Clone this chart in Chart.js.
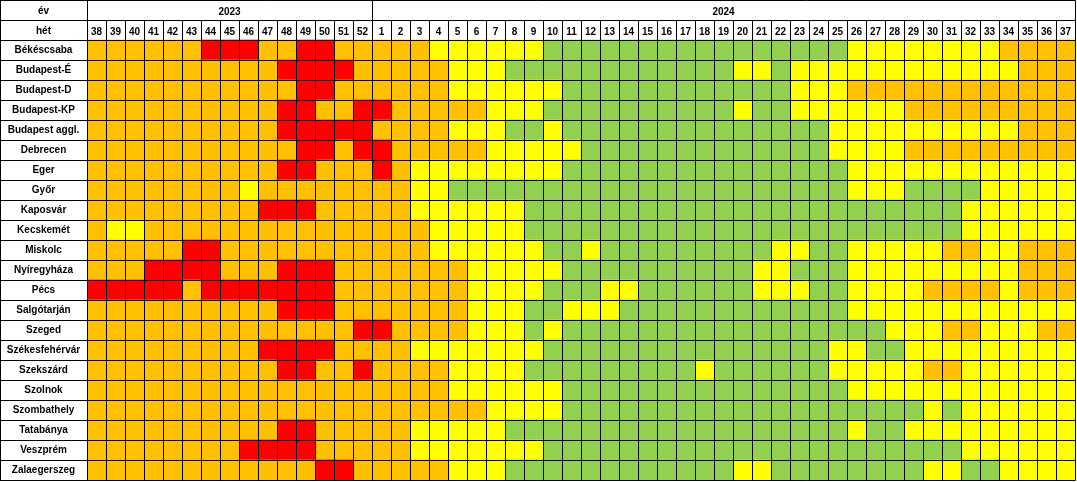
<!DOCTYPE html>
<html>
<head>
<meta charset="utf-8">
<script src="https://cdn.jsdelivr.net/npm/chart.js@4/dist/chart.umd.min.js"></script>
<style>
html,body{margin:0;padding:0;background:#fff;overflow:hidden}
canvas{display:block}
</style>
</head>
<body>
<canvas id="c" width="1077" height="482"></canvas>
<script>
// ---- data ----
const headerRows = ['év', 'hét'];
const cities = ['Békéscsaba','Budapest-É','Budapest-D','Budapest-KP','Budapest aggl.','Debrecen','Eger','Győr','Kaposvár','Kecskemét','Miskolc','Nyíregyháza','Pécs','Salgótarján','Szeged','Székesfehérvár','Szekszárd','Szolnok','Szombathely','Tatabánya','Veszprém','Zalaegerszeg'];
const years = ['2023', '2024'];
const yearWeekCounts = [15, 37];
const weeks = ['38','39','40','41','42','43','44','45','46','47','48','49','50','51','52',
  '1','2','3','4','5','6','7','8','9','10','11','12','13','14','15','16','17','18','19','20',
  '21','22','23','24','25','26','27','28','29','30','31','32','33','34','35','36','37'];
// status codes per city: R = red, O = orange, Y = yellow, G = green
// 2023 weeks 38..52
const status2023 = [
  'OOOOOORRROORROO', // Békéscsaba
  'OOOOOOOOOORRRRO', // Budapest-É
  'OOOOOOOOOOORROO', // Budapest-D
  'OOOOOOOOOORROOR', // Budapest-KP
  'OOOOOOOOOORRRRR', // Budapest aggl.
  'OOOOOOOOOOORROR', // Debrecen
  'OOOOOOOOOORROOO', // Eger
  'OOOOOOOOYOOOOOO', // Győr
  'OOOOOOOOORRROOO', // Kaposvár
  'OYYOOOOOOOOOOOO', // Kecskemét
  'OOOOORROOOOOOOO', // Miskolc
  'OOORRRROOORRROO', // Nyíregyháza
  'RRRRRORRRRRRROO', // Pécs
  'OOOOOOOOOORRROO', // Salgótarján
  'OOOOOOOOOOOOOOR', // Szeged
  'OOOOOOOOORRRROO', // Székesfehérvár
  'OOOOOOOOOORROOR', // Szekszárd
  'OOOOOOOOOOOOOOO', // Szolnok
  'OOOOOOOOOOOOOOO', // Szombathely
  'OOOOOOOOOORROOO', // Tatabánya
  'OOOOOOOORRRROOO', // Veszprém
  'OOOOOOOOOOOORRO'  // Zalaegerszeg
];
// 2024 weeks 1..37 (groups of five weeks)
const status2024 = [
  'OOOYY YYYYG GGGGG GGGGG GGGGG YYYYY YYYOO OO', // Békéscsaba
  'OOOOY YYGGG GGGGG GGGGY YGYYY YYYYY YYYYO OO', // Budapest-É
  'OOOOY YYYYY GGGGG GGGGG GGYYY OOOOO OOOOO OO', // Budapest-D
  'ROOOO OYYYG GGGGG GGGGY GGYYY YYYOO OOOOO OO', // Budapest-KP
  'OOOOY YYGGY GGGGG GGGGG GGGGY YYYYY YYYYO OO', // Budapest aggl.
  'ROOOO OYYYY YGGGG GGGGG GGGGY YYYOO OOOOO OO', // Debrecen
  'ROYYY YYYYY GGGGG GGGGG GGGGG YYYYY YYYYY YY', // Eger
  'OOYYG GGGGG GGGGG GGGGG GGGGG YYYGG GGYYY YY', // Győr
  'OOYYY YYYGG GGGGG GGGGG GGGGG GGGGG GYYYY YY', // Kaposvár
  'OOOYY YYYGG GGGGG GGGGG GGGGG GGGGG GYYYY YY', // Kecskemét
  'OOOYY YYYYG GYGGG GGGGG GYYGG YYYYY OOYYO OO', // Miskolc
  'OOOOO YYYYY GGGGG GGGGG YYGGG YYYYY YYYYO OO', // Nyíregyháza
  'OOOOO YYYYG GGYYG GGGGG YYYGG YYYYO OOOYO OO', // Pécs
  'OOOOO YYYGG YYYGG GGGGG GGGGG YYYYY YYYYY YY', // Salgótarján
  'ROOOO YYYGY GGGGG GGGGG GGGGG GGYYY OOYYY OO', // Szeged
  'OOYYY YYYYG GGGGG GGGGG GGGGY YGGYY YYYYY YY', // Székesfehérvár
  'OOOOY YYYGG GGGGG GGYGG GGGGY YYYYO OYYYY YY', // Szekszárd
  'OOOOY YYYYY GGGGG GGGGG GGGGG YYYYY YYYYY YY', // Szolnok
  'OOOOO OYYYY GGGGG GGGGG GGGGG GGGGY GYYYY YY', // Szombathely
  'OOYYY YYGGG GGGGG GGGGG GGGGG YGGYY YYYYY YY', // Tatabánya
  'OOYYY YYYYG GGGGG GGGGG GGGGG GGGGG GYYYY YY', // Veszprém
  'OOOOY YYGGG GGGGG GGGGY YGGGG GGGGY YGGYY YY'  // Zalaegerszeg
];
const statusColors = { R: '#FF0000', O: '#FFC000', Y: '#FFFF00', G: '#92D050' };

// ---- build chart structures ----
const rowLabels = headerRows.concat(cities);
const cityCodes = cities.map((c, i) => (status2023[i] + status2024[i]).replace(/\s+/g, ''));
const FONT_FAMILY = '"Liberation Sans", Arial, sans-serif';
const FONT_SIZE = 10;
const LABEL_COL_W = 87;

const datasets = weeks.map((w, j) => ({
  label: w,
  data: rowLabels.map((_, r) => r < headerRows.length ? null : 1),
  backgroundColor: rowLabels.map((_, r) => r < headerRows.length ? 'rgba(0,0,0,0)' : statusColors[cityCodes[r - headerRows.length][j]]),
  borderWidth: 0,
  barPercentage: 1,
  categoryPercentage: 1
}));

// measure widest row label to center labels in the left column
const mctx = document.createElement('canvas').getContext('2d');
mctx.font = 'bold ' + FONT_SIZE + 'px ' + FONT_FAMILY;
const widest = Math.max(...cities.map(l => mctx.measureText(l).width));
const labelPad = LABEL_COL_W - LABEL_COL_W / 2 - widest / 2;

const gridPlugin = {
  id: 'tableGrid',
  afterDraw(chart) {
    const ctx = chart.ctx;
    const xs = chart.scales.x;
    const area = chart.chartArea;
    const nRows = rowLabels.length;
    const rowH = (area.bottom - area.top) / nRows;
    const rowY = r => area.top + r * rowH;
    const colX = j => xs.getPixelForValue(j);
    const crisp = v => Math.round(v) + 0.5;
    const right = colX(weeks.length);
    ctx.save();
    // header texts
    ctx.fillStyle = '#000';
    ctx.font = 'bold ' + FONT_SIZE + 'px ' + FONT_FAMILY;
    ctx.textAlign = 'center';
    ctx.textBaseline = 'middle';
    headerRows.forEach((h, r) => {
      ctx.fillText(h, area.left / 2, rowY(r) + rowH / 2 + 1);
    });
    weeks.forEach((w, j) => {
      ctx.fillText(w, colX(j + 0.5), rowY(1) + rowH / 2 + 2);
    });
    let start = 0;
    years.forEach((y, k) => {
      const end = start + yearWeekCounts[k];
      ctx.fillText(y, (colX(start) + colX(end)) / 2, rowY(0) + rowH / 2 + 2);
      start = end;
    });
    // lines
    ctx.strokeStyle = '#000';
    ctx.lineWidth = 1;
    ctx.beginPath();
    for (let r = 0; r <= nRows; r++) {
      const y = crisp(rowY(r));
      ctx.moveTo(0, y); ctx.lineTo(crisp(right), y);
    }
    const fullCols = new Set([0, weeks.length]);
    let acc = 0;
    yearWeekCounts.forEach(n => { acc += n; fullCols.add(acc); });
    ctx.moveTo(0.5, crisp(rowY(0))); ctx.lineTo(0.5, crisp(rowY(nRows)));
    for (let j = 0; j <= weeks.length; j++) {
      const x = crisp(colX(j));
      const y0 = fullCols.has(j) ? rowY(0) : rowY(1);
      ctx.moveTo(x, crisp(y0)); ctx.lineTo(x, crisp(rowY(nRows)));
    }
    ctx.stroke();
    ctx.restore();
  }
};

new Chart(document.getElementById('c'), {
  type: 'bar',
  data: { labels: rowLabels, datasets },
  options: {
    indexAxis: 'y',
    responsive: false,
    animation: false,
    events: [],
    layout: { padding: { left: 0, top: 0, right: 2, bottom: 2 } },
    plugins: { legend: { display: false }, tooltip: { enabled: false } },
    scales: {
      x: { type: 'linear', min: 0, max: weeks.length, stacked: true, display: false },
      y: {
        type: 'category',
        stacked: true,
        position: 'left',
        grid: { display: false, drawTicks: false },
        border: { display: false },
        ticks: {
          color: '#000',
          font: { family: FONT_FAMILY, size: FONT_SIZE, weight: 'bold' },
          crossAlign: 'center',
          padding: labelPad,
          autoSkip: false,
          callback: function (v, i) { return i < headerRows.length ? '' : this.getLabelForValue(v); }
        },
        afterFit(s) { s.width = LABEL_COL_W; s.paddingTop = 0; s.paddingBottom = 0; }
      }
    }
  },
  plugins: [gridPlugin]
});
</script>
</body>
</html>
